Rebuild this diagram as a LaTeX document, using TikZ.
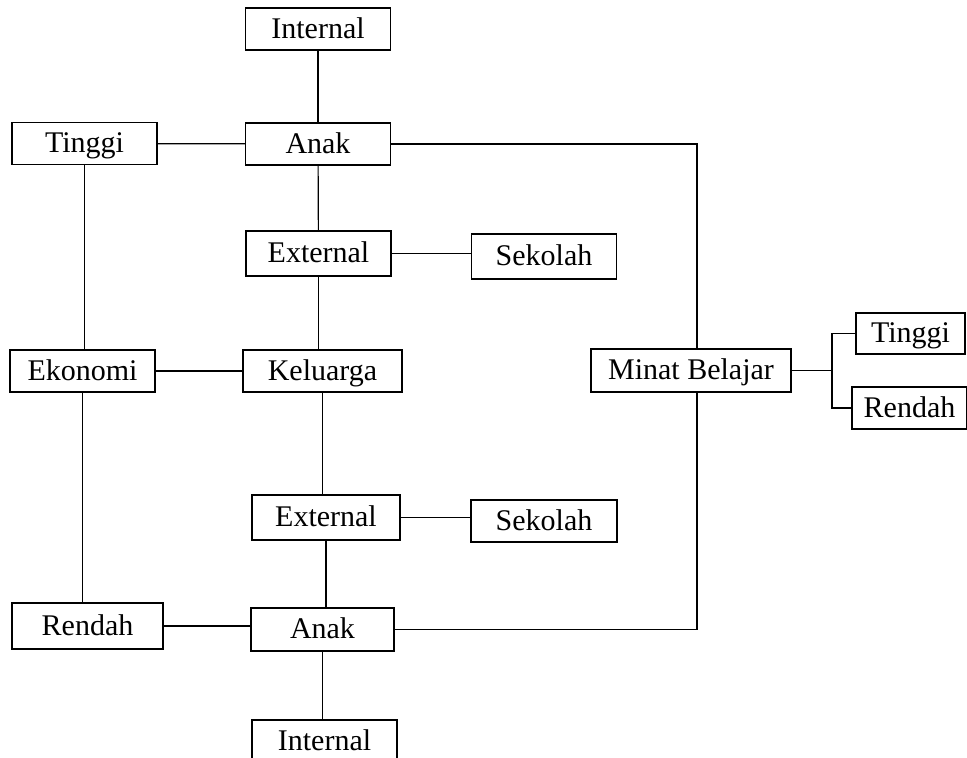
\documentclass[tikz,border=0pt]{standalone}
\usepackage{fontspec}
\setmainfont{Liberation Serif}
\begin{document}
\begin{tikzpicture}[
		x=1pt, y=-1pt,
		box/.style={draw, line width=1.2pt, inner sep=0pt, text height=22pt, text depth=4pt, minimum width=145pt, minimum height=42pt, font=\fontsize{30}{36}\selectfont},
		link/.style={line width=1.2pt}
	]
	\useasboundingbox (0,0) rectangle (967,758);
	\node[box] (int1) at (318,29) {Internal};
	\node[box] (anak1) at (318,144) {Anak};
	\node[box] (tinggi1) at (84.5,143.5) {Tinggi};
	\node[box, minimum height=45pt] (ext1) at (318.5,253.5) {External};
	\node[box, minimum height=45pt] (sek1) at (544,256.5) {Sekolah};
	\node[box] (eko) at (82.5,371) {Ekonomi};
	\node[box, minimum width=159pt] (kel) at (322.5,371) {Keluarga};
	\node[box, minimum width=200pt, minimum height=43pt] (minat) at (691,370.5) {Minat Belajar};
	\node[box, minimum width=109pt, minimum height=41pt] (tinggi2) at (910.5,333.5) {Tinggi};
	\node[box, minimum width=115pt] (rendah2) at (909.5,408) {Rendah};
	\node[box, minimum width=148pt, minimum height=45pt] (ext2) at (326,517.5) {External};
	\node[box, minimum width=146pt] (sek2) at (544,521) {Sekolah};
	\node[box, minimum width=151pt, minimum height=46pt] (rendah1) at (87.5,626) {Rendah};
	\node[box, minimum width=143pt, minimum height=43pt] (anak2) at (322.5,629.5) {Anak};
	\node[box] (int2) at (324.5,741) {Internal};
	\coordinate (fork) at (832,370.5);
	% kolom kiri dan tengah
	\draw[link] (int1) -- (anak1);
	\draw[link] (tinggi1) -- (anak1);
	\draw[link] (anak1) -- (ext1);
	\draw[link] (ext1) -- (ext1 -| sek1.west);
	\draw[link] (ext1) -- (ext1 |- kel.north);
	\draw[link] (eko) -- (kel);
	\draw[link] (tinggi1) -- (tinggi1 |- eko.north);
	\draw[link] (eko) -- (eko |- rendah1.north);
	\draw[link] (kel) -- (kel |- ext2.north);
	\draw[link] (ext2) -- (ext2 -| sek2.west);
	\draw[link] (ext2) -- (ext2 |- anak2.north);
	\draw[link] (rendah1) -- (rendah1 -| anak2.west);
	\draw[link] (anak2) -- (anak2 |- int2.north);
	% minat belajar
	\draw[link] (anak1) -| ([xshift=6pt]minat.north);
	\draw[link] ([xshift=6pt]minat.south) |- (anak2);
	\draw[link] (minat) -- (fork);
	\draw[link] (tinggi2.west) -| (fork) |- (rendah2.west);
\end{tikzpicture}
\end{document}
